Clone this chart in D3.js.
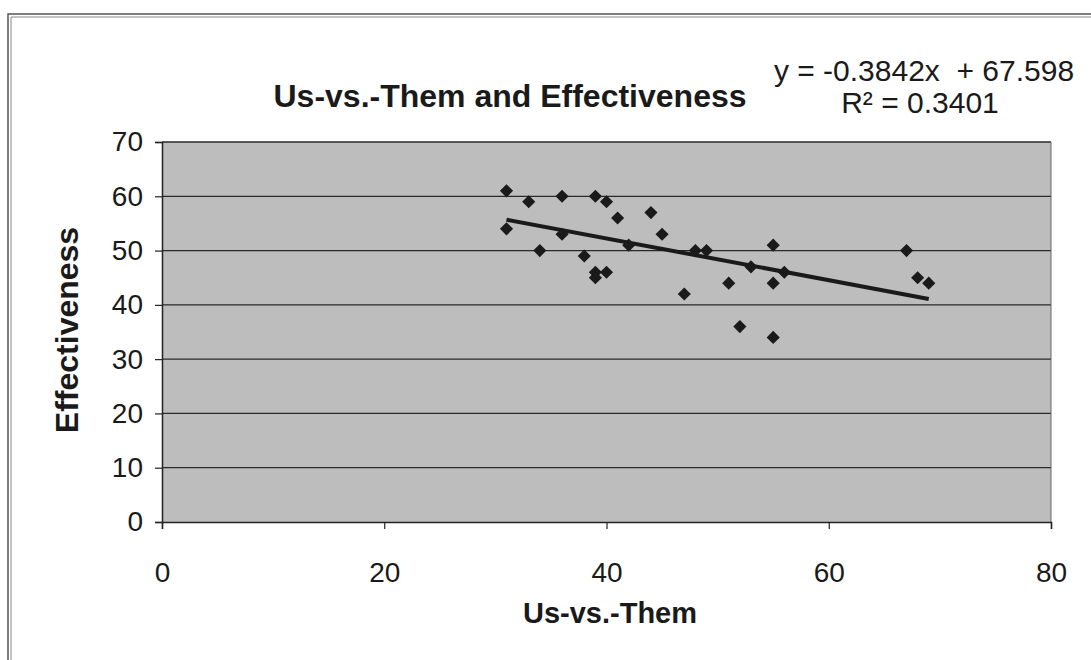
<!DOCTYPE html>
<html>
<head>
<meta charset="utf-8">
<script src="https://cdn.jsdelivr.net/npm/d3@7"></script>
<style>
    body { margin: 0; background: #fff; }
    text { font-family: "Liberation Sans", Arial, sans-serif; fill: #1a1a1a; }
</style>
</head>
<body>
<svg id="chart" width="1091" height="660"></svg>
<script>
// scatter data
let usVsThem = [31, 31, 33, 34, 36, 36, 38, 39, 40, 39, 39, 40, 41, 42, 44, 45, 47, 48, 49, 51, 53, 55, 56, 55, 52, 55, 67, 68, 69];
let effectiveness = [61, 54, 59, 50, 60, 53, 49, 60, 59, 46, 45, 46, 56, 51, 57, 53, 42, 50, 50, 44, 47, 51, 46, 44, 36, 34, 50, 45, 44];
let xTicks = [0, 20, 40, 60, 80];
let yTicks = [0, 10, 20, 30, 40, 50, 60, 70];
let slope = -0.3842;
let intercept = 67.598;

let svg = d3.select("#chart");

// frame around the chart (double line)
svg.append("path").attr("d", "M8,660 V14 H1091").attr("fill", "none").attr("stroke", "#555").attr("stroke-width", 1.5);
svg.append("path").attr("d", "M11,660 V17 H1091").attr("fill", "none").attr("stroke", "#888").attr("stroke-width", 1);

let plotLeft = 162, plotRight = 1051, plotTop = 142, plotBottom = 522;

let x = d3.scaleLinear().domain([0, 80]).range([plotLeft, plotRight]);
let y = d3.scaleLinear().domain([0, 70]).range([plotBottom, plotTop]);

// plot area
svg.append("rect")
    .attr("x", plotLeft).attr("y", plotTop)
    .attr("width", plotRight - plotLeft).attr("height", plotBottom - plotTop)
    .attr("fill", "#bdbdbd");

// gridlines
svg.append("g").selectAll("line")
    .data(yTicks.filter(d => d > 0))
    .enter().append("line")
    .attr("x1", plotLeft).attr("x2", plotRight)
    .attr("y1", d => y(d)).attr("y2", d => y(d))
    .attr("stroke", "#2a2a2a").attr("stroke-width", 1.3);

// right border of the plot area
svg.append("line")
    .attr("x1", plotRight).attr("x2", plotRight).attr("y1", plotTop).attr("y2", plotBottom)
    .attr("stroke", "#666").attr("stroke-width", 1);

// axes
let xAxis = d3.axisBottom(x).tickValues(xTicks).tickSize(7).tickPadding(33).tickFormat(d3.format("d"));
let yAxis = d3.axisLeft(y).tickValues(yTicks).tickSize(7).tickPadding(12).tickFormat(d3.format("d"));

let gx = svg.append("g").attr("transform", `translate(0,${plotBottom})`).call(xAxis);
let gy = svg.append("g").attr("transform", `translate(${plotLeft},0)`).call(yAxis);

[gx, gy].forEach(g => {
    g.select(".domain").attr("stroke", "#222").attr("stroke-width", 1.5);
    g.selectAll(".tick line").attr("stroke", "#222").attr("stroke-width", 1.2);
    g.selectAll(".tick text")
        .style("font-family", '"Liberation Sans", Arial, sans-serif')
        .style("font-size", "28px")
        .attr("fill", "#1a1a1a");
});

// trendline from min x to max x
let xMin = d3.min(usVsThem), xMax = d3.max(usVsThem);
svg.append("line")
    .attr("x1", x(xMin)).attr("y1", y(slope * xMin + intercept))
    .attr("x2", x(xMax)).attr("y2", y(slope * xMax + intercept))
    .attr("stroke", "#1a1a1a").attr("stroke-width", 4);

// diamond markers
let diamond = d3.symbol().type(d3.symbolDiamond2).size(110);
svg.append("g").selectAll("path")
    .data(usVsThem.map((d, i) => [d, effectiveness[i]]))
    .enter().append("path")
    .attr("d", diamond)
    .attr("transform", d => `translate(${x(d[0])},${y(d[1])})`)
    .attr("fill", "#1a1a1a");

// title and equation
svg.append("text").attr("x", 510).attr("y", 107).attr("text-anchor", "middle")
    .style("font-size", "32px").style("font-weight", "bold")
    .text("Us-vs.-Them and Effectiveness");

svg.append("text").attr("x", 924).attr("y", 81).attr("text-anchor", "middle")
    .style("font-size", "30px").style("white-space", "pre")
    .text("y = -0.3842x  + 67.598");
svg.append("text").attr("x", 920).attr("y", 113).attr("text-anchor", "middle")
    .style("font-size", "30px")
    .text("R² = 0.3401");

// axis titles
svg.append("text").attr("x", 610).attr("y", 623).attr("text-anchor", "middle")
    .style("font-size", "29px").style("font-weight", "bold")
    .text("Us-vs.-Them");

svg.append("text")
    .attr("transform", `translate(78,${(plotTop + plotBottom) / 2 - 2}) rotate(-90)`)
    .attr("text-anchor", "middle")
    .style("font-size", "32px").style("font-weight", "bold")
    .text("Effectiveness");
</script>
</body>
</html>
